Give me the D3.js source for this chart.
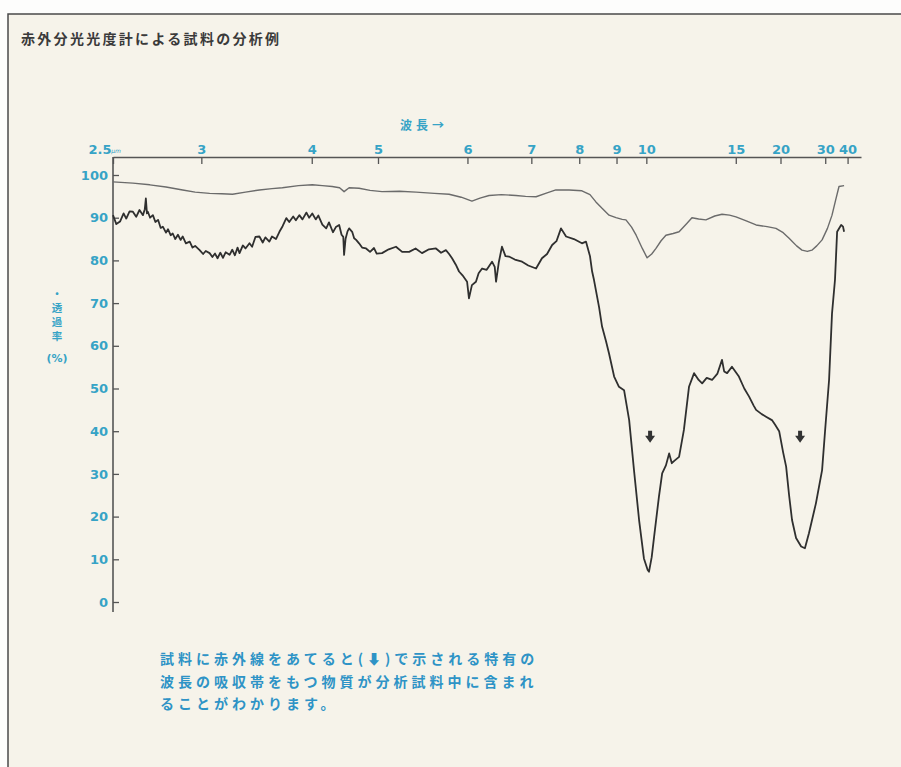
<!DOCTYPE html>
<html>
<head>
<meta charset="utf-8">
<script src="https://cdn.jsdelivr.net/npm/d3@7"></script>
<style>
  body { margin: 0; background: #fdfdfc; }
  svg { display: block; }
</style>
</head>
<body>
<div id="chart"></div>
<script>
//Axis ticks (wavelength in micrometres, transmittance in %)
var wavelengthTicks = [2.5, 3, 4, 5, 6, 7, 8, 9, 10, 15, 20, 30, 40];
var percentTicks = [0, 10, 20, 30, 40, 50, 60, 70, 80, 90, 100];

//Reference trace (no sample): wavenumber cm-1 / transmittance %
var refWavenumber = [4000, 3850, 3722, 3600, 3474, 3380, 3271, 3180, 3098, 3000, 2895, 2800, 2722, 2600, 2496, 2420, 2346, 2290, 2256, 2218, 2143, 2060, 1985, 1920, 1858, 1790, 1735, 1690, 1650, 1620, 1586, 1540, 1486, 1450, 1411, 1370, 1337, 1288, 1240, 1210, 1188, 1165, 1139, 1113, 1090, 1076, 1055, 1038, 1015, 997, 980, 964, 945, 927, 900, 878, 850, 830, 805, 778, 745, 718, 690, 666, 630, 591, 550, 517, 490, 468, 440, 420, 400, 383, 365, 345, 325, 308, 295, 282, 263];
var refPercent = [98.4, 98.1, 97.7, 97.2, 96.5, 96.0, 95.7, 95.6, 95.5, 96.0, 96.5, 96.8, 97.0, 97.5, 97.7, 97.5, 97.3, 97.0, 96.1, 97.0, 96.9, 96.4, 96.1, 96.2, 96.0, 95.7, 95.5, 94.8, 93.9, 94.6, 95.2, 95.4, 95.2, 95.0, 94.9, 95.8, 96.5, 96.5, 96.3, 95.4, 93.7, 92.2, 90.6, 90.0, 89.6, 89.5, 87.8, 85.9, 82.8, 80.6, 81.5, 82.8, 84.6, 85.9, 86.3, 86.7, 88.6, 90.0, 89.7, 89.5, 90.4, 90.8, 90.6, 90.2, 89.3, 88.3, 87.9, 87.5, 86.5, 85.2, 83.4, 82.4, 82.1, 82.4, 83.4, 84.8, 87.5, 90.6, 94.0, 97.3, 97.5];

//Sample trace
var sampleWavenumber = [4000, 3975, 3947, 3920, 3900, 3875, 3850, 3825, 3800, 3774, 3760, 3752, 3744, 3737, 3720, 3699, 3680, 3660, 3640, 3624, 3600, 3585, 3565, 3549, 3530, 3510, 3490, 3474, 3450, 3421, 3400, 3380, 3346, 3320, 3300, 3271, 3250, 3230, 3211, 3190, 3170, 3150, 3120, 3100, 3080, 3060, 3045, 3020, 3000, 2970, 2950, 2925, 2895, 2870, 2850, 2820, 2800, 2770, 2744, 2720, 2692, 2670, 2640, 2620, 2594, 2570, 2540, 2520, 2496, 2470, 2450, 2420, 2391, 2370, 2340, 2318, 2293, 2275, 2262, 2256, 2245, 2230, 2218, 2195, 2180, 2165, 2143, 2120, 2090, 2060, 2030, 2010, 1985, 1960, 1933, 1910, 1884, 1860, 1836, 1810, 1784, 1765, 1747, 1735, 1724, 1710, 1698, 1685, 1668, 1661, 1650, 1635, 1625, 1612, 1595, 1575, 1565, 1560, 1550, 1538, 1525, 1512, 1490, 1463, 1440, 1411, 1389, 1370, 1351, 1335, 1318, 1299, 1270, 1240, 1225, 1210, 1202, 1195, 1176, 1165, 1150, 1139, 1120, 1102, 1083, 1064, 1046, 1027, 1009, 995, 990, 980, 971, 953, 941, 927, 915, 905, 897, 878, 860, 841, 822, 805, 792, 775, 755, 735, 718, 710, 699, 681, 655, 635, 617, 600, 591, 570, 554, 532, 520, 505, 490, 479, 468, 457, 442, 423, 409, 394, 368, 345, 334, 319, 308, 297, 289, 274, 267, 263];
var samplePercent = [90.6, 88.5, 89.1, 91.0, 89.8, 91.5, 91.4, 90.2, 91.8, 90.6, 92.0, 94.5, 91.0, 91.4, 90.0, 90.6, 89.0, 89.5, 87.6, 87.9, 86.5, 87.3, 85.9, 86.3, 85.0, 86.0, 84.8, 85.6, 84.0, 84.4, 83.0, 83.4, 82.4, 81.5, 82.2, 81.7, 80.8, 81.6, 80.5, 81.8, 80.6, 81.9, 81.3, 82.5, 81.2, 83.0, 81.7, 83.5, 82.8, 84.0, 83.2, 85.5, 85.6, 84.2, 85.4, 84.4, 85.6, 85.0, 86.7, 88.0, 89.9, 89.0, 90.3, 89.4, 90.6, 89.6, 91.2, 90.0, 91.0, 89.6, 90.5, 88.4, 87.5, 88.9, 86.6, 87.8, 88.3, 86.0, 85.5, 81.3, 85.0, 86.8, 87.5, 86.7, 85.2, 84.8, 84.0, 83.0, 82.8, 82.0, 82.9, 81.6, 81.7, 82.6, 83.2, 82.0, 82.0, 82.8, 81.7, 82.6, 82.8, 81.8, 82.4, 81.5, 80.5, 79.0, 77.4, 76.5, 75.0, 71.1, 74.2, 75.0, 77.0, 78.1, 77.8, 79.7, 78.5, 75.0, 79.5, 83.2, 81.0, 80.9, 80.2, 79.7, 78.8, 78.1, 80.5, 81.5, 83.6, 84.5, 87.5, 85.6, 85.0, 84.0, 84.4, 81.0, 77.4, 75.4, 69.0, 64.5, 61.0, 58.2, 52.8, 50.4, 49.6, 42.6, 30.9, 19.2, 10.2, 7.5, 7.1, 10.5, 15.3, 24.7, 30.1, 32.0, 34.8, 32.5, 33.0, 34.0, 40.3, 50.4, 53.6, 52.0, 51.2, 52.5, 52.0, 53.5, 56.7, 54.0, 53.6, 55.1, 52.8, 50.0, 48.1, 46.0, 45.0, 44.0, 43.4, 42.6, 41.5, 40.0, 35.0, 31.7, 25.0, 19.2, 15.0, 13.0, 12.6, 16.1, 23.1, 30.9, 40.0, 52.0, 67.6, 75.4, 86.7, 88.3, 87.9, 86.7];

//Absorption band markers
var bandWavenumber = [986, 427];
var bandPercent = [38.7, 38.7];

//Texts
var title = "赤外分光光度計による試料の分析例";
var xTitle = "波長→";
var yTitleChars = ["・", "透", "過", "率"];
var yTitleUnit = "(%)";
var noteLines = ["試料に赤外線をあてると(⬇)で示される特有の", "波長の吸収帯をもつ物質が分析試料中に含まれ", "ることがわかります。"];

//Colors
var colorPaper = "#f6f3ea";
var colorFrame = "#4a4a4a";
var colorAxis = "#555";
var colorLabel = "#36a3c6";
var colorNote = "#2e93c6";
var colorRef = "#6b6b6b";
var colorSample = "#2f2f2f";

var width = 901, height = 767;

var svg = d3.select("#chart").append("svg")
    .attr("width", width)
    .attr("height", height);

//Paper and frame
svg.append("rect").attr("x", 8).attr("y", 14).attr("width", width - 8).attr("height", height - 14)
    .attr("fill", colorPaper);
svg.append("path").attr("d", "M8," + height + "V14H" + width)
    .attr("fill", "none").attr("stroke", colorFrame).attr("stroke-width", 1.5);

svg.append("text").text(title)
    .attr("x", 21).attr("y", 44)
    .attr("font-family", "Noto Sans CJK JP").attr("font-size", 14).attr("font-weight", "bold")
    .attr("letter-spacing", 2.3).attr("fill", "#3a3a3a");

//Scales: the instrument chart is linear in wavenumber, with a scale change at 2000 cm-1
var x = d3.scaleLinear().domain([4000, 2000, 200]).range([113, 378, 861]);
var y = d3.scaleLinear().domain([0, 100]).range([602, 175]);

var axisTopY = 157;

//Top wavelength axis
var gx = svg.append("g").attr("transform", "translate(0," + axisTopY + ")")
    .call(d3.axisTop(x)
        .tickValues(wavelengthTicks.map(function (w) { return 10000 / w; }))
        .tickFormat(function (d) { return d3.format("~g")(+(10000 / d).toFixed(1)); })
        .tickSizeInner(-7).tickSizeOuter(0).tickPadding(3));
gx.select(".domain").attr("stroke", colorAxis).attr("stroke-width", 1.6);
gx.selectAll(".tick line").attr("stroke", colorAxis).attr("stroke-width", 1.3);
gx.selectAll(".tick text")
    .attr("fill", colorLabel).attr("font-family", "DejaVu Sans").attr("font-weight", "bold")
    .attr("font-size", 13);
//first label sits left of the axis start, followed by the unit
gx.selectAll(".tick").filter(function (d) { return d === 4000; }).select("text")
    .attr("text-anchor", "end").attr("x", -2);
gx.append("text").text("μm")
    .attr("x", x(4000) + 3).attr("y", -4)
    .attr("fill", colorLabel).attr("font-family", "DejaVu Sans").attr("font-style", "italic")
    .attr("font-size", 6);

svg.append("text").text(xTitle)
    .attr("x", 400).attr("y", 130)
    .attr("font-family", "Noto Sans CJK JP").attr("font-weight", "bold").attr("font-size", 12)
    .attr("letter-spacing", 4).attr("fill", colorLabel);

//Left transmittance axis
var gy = svg.append("g").attr("transform", "translate(" + x(4000) + ",0)")
    .call(d3.axisLeft(y).tickValues(percentTicks)
        .tickSizeInner(-6).tickSizeOuter(0).tickPadding(5));
gy.select(".domain").remove();
gy.append("line").attr("x1", 0).attr("x2", 0).attr("y1", axisTopY).attr("y2", 612)
    .attr("stroke", colorAxis).attr("stroke-width", 1.6);
gy.selectAll(".tick line").attr("stroke", colorAxis).attr("stroke-width", 1.3);
gy.selectAll(".tick text")
    .attr("fill", colorLabel).attr("font-family", "DejaVu Sans").attr("font-weight", "bold")
    .attr("font-size", 13);

//Vertical axis title
for (var i = 0; i < yTitleChars.length; i++) {
    svg.append("text").text(yTitleChars[i])
        .attr("x", 57).attr("y", 298 + i * 14)
        .attr("text-anchor", "middle")
        .attr("font-family", "Noto Sans CJK JP").attr("font-weight", "bold").attr("font-size", 10.5)
        .attr("fill", colorLabel);
}
svg.append("text").text(yTitleUnit)
    .attr("x", 57).attr("y", 362)
    .attr("text-anchor", "middle")
    .attr("font-family", "DejaVu Sans").attr("font-weight", "bold").attr("font-size", 11)
    .attr("fill", colorLabel);

//Traces
var line = d3.line()
    .x(function (d) { return x(d[0]); })
    .y(function (d) { return y(d[1]); });

svg.append("path")
    .attr("d", line(d3.zip(refWavenumber, refPercent)))
    .attr("fill", "none").attr("stroke", colorRef).attr("stroke-width", 1.4)
    .attr("stroke-linejoin", "round");

svg.append("path")
    .attr("d", line(d3.zip(sampleWavenumber, samplePercent)))
    .attr("fill", "none").attr("stroke", colorSample).attr("stroke-width", 1.8)
    .attr("stroke-linejoin", "round");

//Band arrows
bandWavenumber.forEach(function (w, k) {
    var cx = x(w), cy = y(bandPercent[k]);
    svg.append("path")
        .attr("d", "M" + (cx - 2) + "," + (cy - 6) + "h4v5h3l-5,7l-5,-7h3z")
        .attr("fill", "#333");
});

//Explanatory note
svg.append("g").selectAll("text").data(noteLines).join("text")
    .text(function (d) { return d; })
    .attr("x", 160)
    .attr("y", function (d, k) { return 664 + k * 22.5; })
    .attr("font-family", "Noto Sans CJK JP").attr("font-weight", "bold").attr("font-size", 14)
    .attr("letter-spacing", 4).attr("fill", colorNote);
</script>
</body>
</html>
